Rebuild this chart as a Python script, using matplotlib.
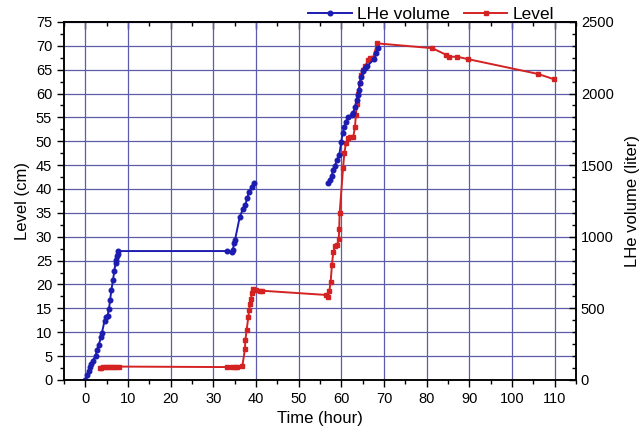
import matplotlib
matplotlib.use('Agg')
import matplotlib.pyplot as plt
import numpy as np
from matplotlib.ticker import MultipleLocator

plt.rcParams['font.family'] = ['Liberation Sans', 'DejaVu Sans']

# LHe volume (liter), two filling runs
vol_t1 = [0, 0.5, 0.8, 1.1, 1.4, 1.7, 2.4, 2.7, 3.1, 3.7, 3.9, 4.5, 4.9, 5.2, 5.55, 5.8,
          6.1, 6.5, 6.8, 7.1, 7.25, 7.4, 7.55, 7.65,
          33.1, 34.4, 34.55, 34.9, 35.1, 36.2, 37.0, 37.5, 37.9, 38.4, 39.0, 39.5]
vol_v1 = [0, 35, 63, 87, 110, 133, 167, 207, 243, 300, 330, 413, 443, 447, 497, 557,
          627, 700, 763, 820, 840, 863, 880, 900,
          900, 890, 910, 953, 980, 1140, 1197, 1220, 1267, 1313, 1350, 1377]
vol_t2 = [56.9, 57.3, 57.7, 58.1, 58.5, 59.0, 59.5, 60.0, 60.3, 60.7, 61.1, 61.6, 62.4,
          62.8, 63.2, 63.6, 63.8, 64.2, 64.3, 64.7, 65.1, 65.5, 66.1, 67.7, 68.2, 68.5]
vol_v2 = [1373, 1397, 1423, 1467, 1497, 1537, 1570, 1663, 1723, 1767, 1803, 1833, 1850,
          1867, 1907, 1953, 1990, 2023, 2070, 2117, 2160, 2177, 2193, 2240, 2280, 2317]

# level (cm)
lev_t = [3.4, 3.6, 4.2, 4.8, 5.4, 6.0, 6.6, 7.2, 7.9,
         33.1, 34.3, 35.1, 35.6, 36.8,
         37.4, 37.5, 37.8, 38.2, 38.4, 38.6, 38.8, 39.1, 39.3,
         39.7, 40.1, 40.9, 41.3,
         56.5, 56.9, 57.2, 57.5, 57.8, 58.1, 58.5, 59.0, 59.4, 59.5, 59.6,
         60.4, 60.7, 61.1, 61.6, 62.0, 62.8, 63.2, 63.4, 63.7, 64.0, 64.3, 64.7,
         65.1, 65.6, 66.3, 66.8, 67.4, 68.4,
         81.3, 84.6, 85.2, 87.2, 89.7, 106.1, 109.8]
lev_v = [2.4, 2.5, 2.7, 2.8, 2.8, 2.8, 2.8, 2.8, 2.8,
         2.7, 2.7, 2.7, 2.7, 2.9,
         6.4, 8.3, 10.4, 13.2, 14.6, 16.0, 16.9, 18.3, 19.0,
         18.9, 18.8, 18.7, 18.7,
         17.8, 17.3, 18.7, 20.6, 24.1, 26.7, 28.0, 28.3, 29.5, 31.6, 34.9,
         44.3, 47.5, 49.6, 50.6, 50.9, 50.9, 53.0, 55.5, 57.9, 60.0, 62.1, 63.9,
         64.9, 65.8, 67.0, 67.4, 67.4, 70.5,
         69.5, 68.1, 67.7, 67.7, 67.2, 64.1, 63.0]

blue = '#1c1cb0'
red = '#d42222'
grid_col = '#5c5ca8'

fig = plt.figure(figsize=(6.4, 4.47), dpi=100)
ax = fig.add_axes([0.1, 0.15, 0.8, 0.801])
ax2 = ax.twinx()

ax.set_xlim(-5, 115)
ax.set_ylim(0, 75)
ax2.set_ylim(0, 2500)

ax.xaxis.set_major_locator(MultipleLocator(10))
ax.xaxis.set_minor_locator(MultipleLocator(5))
ax.yaxis.set_major_locator(MultipleLocator(5))
ax.yaxis.set_minor_locator(MultipleLocator(2.5))
ax2.yaxis.set_major_locator(MultipleLocator(500))
ax2.yaxis.set_minor_locator(MultipleLocator(2500 / 30))

ax.set_axisbelow(True)
ax.grid(True, which='major', color=grid_col, lw=0.9)

l_red, = ax.plot(lev_t, lev_v, '-s', color=red, lw=1.4, ms=3.5, label='Level')
l_blue, = ax2.plot(vol_t1, vol_v1, '-o', color=blue, lw=1.4, ms=3.3, label='LHe volume')
ax2.plot(vol_t2, vol_v2, '-o', color=blue, lw=1.4, ms=3.3)

ax.tick_params(axis='both', which='major', labelsize=10.5, length=5, width=1, direction='out')
ax.tick_params(axis='both', which='minor', length=3, width=1, direction='out')
ax2.tick_params(axis='y', which='major', labelsize=10.5, length=5, width=1, direction='in')
ax2.tick_params(axis='y', which='minor', length=3, width=1, direction='in')

# top ticks point inward
top = ax.secondary_xaxis('top')
top.xaxis.set_major_locator(MultipleLocator(10))
top.xaxis.set_minor_locator(MultipleLocator(5))
top.tick_params(which='major', length=5, width=1, direction='in', labeltop=False)
top.tick_params(which='minor', length=3, width=1, direction='in')

for a in (ax, ax2):
    for s in a.spines.values():
        s.set_linewidth(1.1)
top.spines['top'].set_linewidth(1.1)

ax.set_xlabel('Time (hour)', fontsize=12)
ax.set_ylabel('Level (cm)', fontsize=12)
ax2.set_ylabel('LHe volume (liter)', fontsize=12, labelpad=8)

fig.legend([l_blue, l_red], ['LHe volume', 'Level'], loc='upper right',
           bbox_to_anchor=(0.89, 1.02), ncol=2, frameon=False, fontsize=12.5,
           handlelength=2.5, columnspacing=0.8, handletextpad=0.3)

fig.savefig('out.png', dpi=100)
